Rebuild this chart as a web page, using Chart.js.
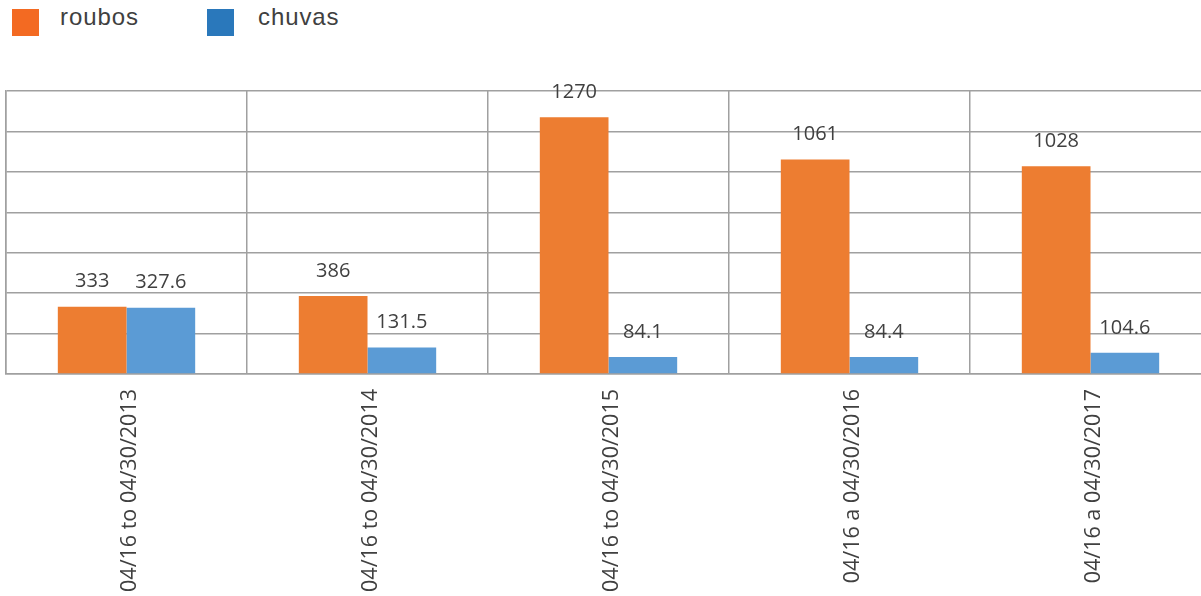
<!DOCTYPE html>
<html>
<head>
<meta charset="utf-8">
<script src="https://cdn.jsdelivr.net/npm/chart.js@4/dist/chart.umd.min.js"></script>
<style>
  html, body { margin: 0; padding: 0; background: #fff; overflow: hidden; width: 1201px; height: 596px; }
  #wrap { position: absolute; left: 0; top: 0; width: 1213px; height: 596px; }
  .lg { position: absolute; top: 9px; width: 27px; height: 27px; }
  .lt { position: absolute; top: 3px; font-family: "Liberation Sans", Arial, sans-serif; font-size: 24px; color: #404040; letter-spacing: 0.9px; }
</style>
</head>
<body>
<div class="lg" style="left:12px;background:#f36a22"></div>
<div class="lt" style="left:60px">roubos</div>
<div class="lg" style="left:207px;background:#2a78bb"></div>
<div class="lt" style="left:258px">chuvas</div>
<div id="wrap"><canvas id="c"></canvas></div>
<script>
const categories = [
  "04/16 to 04/30/2013",
  "04/16 to 04/30/2014",
  "04/16 to 04/30/2015",
  "04/16 a 04/30/2016",
  "04/16 a 04/30/2017"
];
const seriesNames = ["roubos", "chuvas"];
const roubos = [333, 386, 1270, 1061, 1028];
const chuvas = [327.6, 131.5, 84.1, 84.4, 104.6];
const yTicks = [0, 200, 400, 600, 800, 1000, 1200, 1400];

const valueLabels = {
  id: 'valueLabels',
  afterDatasetsDraw(chart) {
    const ctx = chart.ctx;
    ctx.save();
    ctx.font = '20px "Open Sans", sans-serif';
    ctx.fillStyle = '#404040';
    ctx.textAlign = 'center';
    ctx.textBaseline = 'middle';
    chart.data.datasets.forEach((ds, di) => {
      chart.getDatasetMeta(di).data.forEach((bar, i) => {
        ctx.fillText(String(ds.data[i]), bar.x, bar.y - 25);
      });
    });
    ctx.restore();
  }
};

new Chart(document.getElementById('c'), {
  type: 'bar',
  data: {
    labels: categories,
    datasets: [
      { label: seriesNames[0], data: roubos, backgroundColor: '#ed7d31', categoryPercentage: 0.57, barPercentage: 1.0 },
      { label: seriesNames[1], data: chuvas, backgroundColor: '#5b9bd5', categoryPercentage: 0.57, barPercentage: 1.0 }
    ]
  },
  options: {
    responsive: true,
    maintainAspectRatio: false,
    animation: false,
    layout: { padding: { top: 91, left: 6, right: 2, bottom: 0 } },
    plugins: { legend: { display: false }, tooltip: { enabled: false } },
    scales: {
      x: {
        grid: { color: '#a0a0a0', lineWidth: 1.5, drawTicks: false, offset: true },
        border: { color: '#a0a0a0', width: 1.5 },
        ticks: {
          minRotation: 90, maxRotation: 90, padding: 15, labelOffset: 3,
          color: '#404040',
          font: { family: '"Open Sans", sans-serif', size: 21.5 }
        },
        afterFit(scale) { scale.height = 222; }
      },
      y: {
        min: yTicks[0], max: yTicks[yTicks.length - 1],
        afterBuildTicks(scale) { scale.ticks = yTicks.map(v => ({ value: v })); },
        grid: { color: '#a0a0a0', lineWidth: 1.5, drawTicks: false },
        border: { color: '#a0a0a0', width: 1.5 },
        ticks: { display: false },
        afterFit(scale) { scale.width = 0; }
      }
    }
  },
  plugins: [valueLabels]
});
</script>
</body>
</html>
